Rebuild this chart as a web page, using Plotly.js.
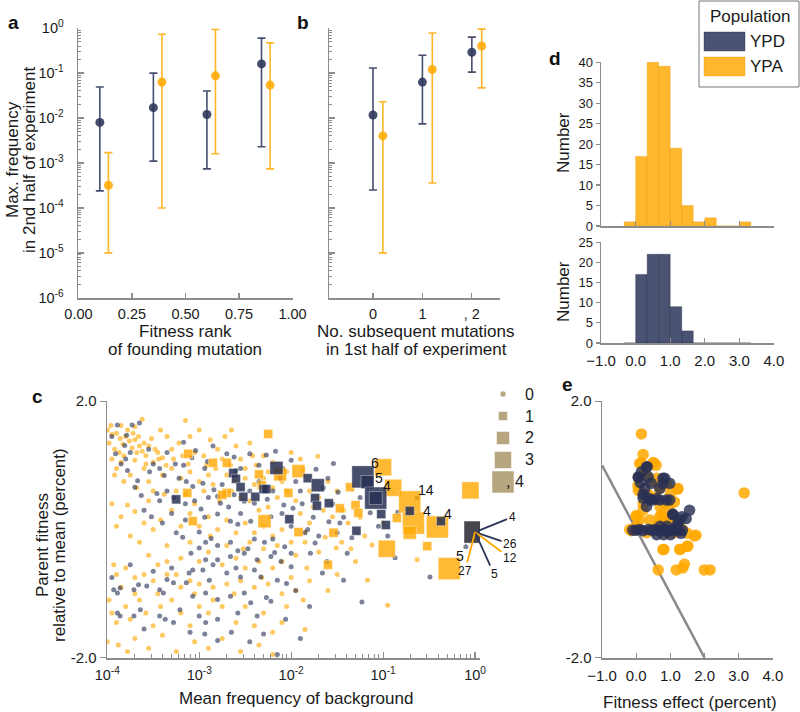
<!DOCTYPE html>
<html><head><meta charset="utf-8">
<script src="https://cdn.plot.ly/plotly-3.0.1.min.js"></script>
<style>html,body{margin:0;padding:0;background:#fff}#chart{width:800px;height:712px}</style>
</head><body><div id="chart"></div>
<script>
// ---------------- DATA ----------------
// Panel a: fitness rank of founding mutation vs max frequency (median, high, low)
const aRankYPD = [0.10, 0.35, 0.60, 0.855];
const aFreqYPD = [0.0080, 0.017, 0.012, 0.16];
const aHighYPD = [0.049, 0.10, 0.040, 0.60];
const aLowYPD  = [2.4e-4, 1.1e-3, 7.4e-4, 2.3e-3];
const aRankYPA = [0.14, 0.39, 0.64, 0.895];
const aFreqYPA = [3.2e-4, 0.063, 0.087, 0.054];
const aHighYPA = [1.7e-3, 0.73, 0.93, 0.47];
const aLowYPA  = [1.0e-5, 1.0e-4, 1.6e-3, 7.4e-4];

// Panel b: number of subsequent mutations
const bMutYPD  = [0, 1, 2];
const bFreqYPD = [0.0117, 0.063, 0.29];
const bHighYPD = [0.13, 0.25, 0.63];
const bLowYPD  = [2.5e-4, 7.4e-3, 0.105];
const bMutYPA  = [0.2, 1.2, 2.2];
const bFreqYPA = [0.004, 0.12, 0.40];
const bHighYPA = [0.023, 0.78, 0.95];
const bLowYPA  = [1.0e-5, 3.6e-4, 0.047];
const bTickVals = [0, 1, 2];
const bTickText = ['0', '1', ', 2'];

const logTickVals = [1e-6, 1e-5, 1e-4, 1e-3, 1e-2, 1e-1, 1];
const logTickText = ['10<sup>-6</sup>','10<sup>-5</sup>','10<sup>-4</sup>','10<sup>-3</sup>','10<sup>-2</sup>','10<sup>-1</sup>','10<sup>0</sup>'];

// Panel d: histograms of fitness effects (bin centres, width 1/3)
const binCenters = [-0.167, 0.167, 0.5, 0.833, 1.167, 1.5, 1.833, 2.167, 2.5, 2.833, 3.167];
const binWidth = 0.333;
const countsYPA = [1, 17, 40, 39, 19, 5, 1, 2, 0, 0, 1];
const countsYPD = [0, 17, 22, 22, 9, 3, 0, 0, 0, 0, 0];

// Panel c: background lineages [log10 mean frequency, parent fitness]
const cDotsYPD = [
[-3.89,1.63],[-3.73,1.63],[-3.65,1.66],[-3.79,1.47],[-3.81,1.31],[-3.91,1.18],[-3.85,1.02],[-3.78,0.92],[-3.80,1.10],[-3.54,0.90],[-3.50,1.02],[-3.43,0.95],[-3.38,0.84],[-3.26,1.02],[-3.17,1.00],[-3.08,1.12],[-2.94,0.95],[-2.91,1.06],[-3.17,1.36],[-3.04,1.23],[-2.70,1.18],[-2.62,1.13],[-2.45,1.18],[-2.27,1.16],[-2.17,1.22],[-2.00,1.08],[-2.09,0.95],[-2.60,0.92],[-2.55,0.95],
[-3.22,0.80],[-3.14,0.75],[-3.07,0.67],[-2.96,0.72],[-2.84,0.62],[-2.80,0.52],[-2.77,0.41],[-2.62,0.54],[-2.51,0.44],[-2.40,0.41],[-2.26,0.47],[-2.08,0.38],[-1.98,0.33],[-3.67,0.76],[-3.70,0.66],[-3.63,0.53],[-3.46,0.56],[-3.43,0.45],[-3.35,0.60],[-3.28,0.50],[-3.15,0.40],[-2.98,0.32],[-2.94,0.19],[-2.80,0.24],[-2.66,0.13],[-2.58,0.08],[-2.44,0.13],[-2.22,0.20],[-2.10,0.25],[-2.00,0.05],[-3.00,-0.04],[-2.93,-0.20],[-2.87,-0.14],[-2.80,-0.25],[-2.66,-0.20],[-2.58,-0.33],[-2.47,-0.30],[-2.29,-0.20],[-2.18,-0.36],[-2.07,-0.27],[-3.18,-0.12],[-3.09,-0.37],[-3.00,-0.29],[-2.93,-0.47],[-2.80,-0.47],[-2.66,-0.42],[-2.51,-0.37],[-2.37,-0.47],[-2.22,-0.42],[-2.11,-0.50],[-2.00,-0.58],[-2.00,-0.37],[-3.07,-0.63],[-3.11,-0.68],[-2.96,-0.63],[-2.89,-0.79],[-2.70,-0.68],[-2.55,-0.74],[-2.40,-0.63],[-2.33,-0.74],[-2.15,-0.79],[-2.05,-0.84],
[-3.93,-0.94],[-3.89,-0.99],[-3.86,-0.91],[-3.71,-0.94],[-3.66,-0.86],[-3.57,-0.88],[-3.43,-0.94],[-3.39,-0.99],[-3.35,-0.78],[-3.28,-0.83],[-3.14,-0.83],[-3.07,-1.04],[-2.93,-0.99],[-2.80,-1.09],[-2.66,-1.04],[-2.51,-0.99],[-2.44,-1.14],[-2.27,-1.06],[-2.22,-1.12],[-3.89,-1.30],[-3.86,-1.35],[-3.71,-1.35],[-3.64,-1.25],[-3.43,-1.35],[-3.37,-1.40],[-3.28,-1.45],[-3.21,-1.25],[-3.00,-1.35],[-2.93,-1.45],[-2.80,-1.40],[-2.58,-1.30],[-2.37,-1.35],[-2.06,-1.40],[-2.45,-1.75],[-2.30,-1.63],[-2.94,-1.63],[-2.80,-1.73],
[-1.54,1.03],[-1.73,0.94],[-1.60,0.80],[-1.49,0.58],[-1.76,0.19],[-1.43,0.19],[-1.47,0.10],[-1.59,0.12],[-1.74,-0.21],[-1.79,-0.37],[-1.61,-0.50],[-1.39,-0.37],[-1.43,-0.79],[-1.23,-1.13],[-0.49,-0.74],[-1.14,0.26],[-0.10,-0.27],[-0.63,0.49],[-0.84,0.27],[-0.87,-0.44],[-1.34,-0.13],[-1.66,-0.68],[-1.90,0.60],[-1.85,-0.05],[-1.95,-0.95],[-1.80,-1.20],[-2.15,-1.95],[-1.25,0.50],[-1.05,0.05],[-0.95,-0.10],
[-3.60,0.30],[-3.52,0.20],[-3.40,0.10],[-3.30,0.25],[-3.25,-0.05],[-3.15,0.15],[-3.05,0.45],[-2.90,0.50],[-2.75,0.70],[-2.68,0.35],[-2.55,0.25],[-2.45,0.60],[-2.35,0.75],[-2.20,0.60],[-2.12,0.80],[-1.95,0.75],[-1.88,0.40],[-1.82,0.00],[-1.70,-0.10],[-1.65,0.65],[-1.55,0.40],[-1.50,-0.05],[-3.55,1.25],[-3.35,1.20],[-3.95,1.45],[-3.75,1.20],[-2.85,1.30],[-2.35,1.00],[-2.20,-0.15],[-2.40,-0.15],[-2.60,-0.60],[-2.85,-0.55],[-3.30,-0.60],[-3.50,-0.65],[-3.75,-0.55],[-3.95,-0.75],[-3.60,-1.55],[-3.10,-1.60],[-2.65,-1.60],[-1.90,-1.70]
];
const cDotsYPA = [
[-4.00,1.55],[-3.95,1.48],[-3.90,1.50],[-3.86,1.42],[-3.83,1.33],[-3.80,1.45],[-3.76,1.38],[-3.73,1.27],[-3.70,1.40],[-3.68,1.20],[-3.65,1.30],[-3.62,1.22],[-3.58,1.15],[-3.55,1.30],[-3.50,1.05],[-3.45,1.20],[-3.40,1.12],[-3.30,1.25],[-3.22,1.35],[-3.15,1.70],[-3.00,1.55],[-2.88,1.40],[-2.80,1.25],[-2.75,1.10],[-2.60,1.30],[-2.55,1.10],[-2.45,1.35],[-2.30,1.15],[-2.20,1.05],[-3.95,1.10],[-3.90,0.95],[-3.85,1.05],[-3.75,0.85],[-3.60,0.95],[-3.55,0.75],[-3.40,0.85],[-3.30,0.95],[-3.20,0.80],[-3.10,0.90],[-3.00,0.75],[-2.90,0.85],[-2.85,0.70],[-2.70,0.85],[-2.60,0.75],[-2.50,0.80],[-2.40,0.70],[-2.30,0.80],[-2.20,0.65],[-2.10,0.75],[-2.05,0.90],
[-3.98,1.35],[-3.92,1.25],[-3.87,1.20],[-3.82,1.15],[-3.78,1.55],[-3.72,1.50],[-3.66,1.45],[-3.60,1.35],[-3.52,1.42],[-3.48,1.25],[-3.44,1.10],[-3.36,1.00],[-3.28,1.10],[-3.18,1.15],[-3.12,1.02],[-3.05,1.20],[-2.95,1.15],[-2.92,1.00],[-2.82,0.95],[-2.66,1.00],[-2.50,0.95],[-2.38,1.00],[-2.25,0.90],[-3.96,1.62],[-3.85,1.62],[-3.62,1.72],[-3.35,1.45],[-2.72,1.45],[-3.70,1.08],[-3.58,1.02],
[-3.85,0.20],[-3.78,0.38],[-3.70,0.28],[-3.60,0.10],[-3.55,0.45],[-3.42,0.15],[-3.30,0.30],[-3.20,0.05],[-3.10,0.25],[-3.00,0.05],[-2.90,0.20],[-2.80,0.00],[-2.70,0.15],[-2.60,-0.05],[-2.50,0.10],[-2.40,-0.05],[-2.30,0.05],[-2.20,-0.10],[-2.10,0.00],[-2.00,-0.20],[-3.65,-0.20],[-3.55,-0.40],[-3.45,-0.55],[-3.35,-0.50],[-3.20,-0.45],[-3.10,-0.20],[-3.00,-0.50],[-2.90,-0.35],[-2.75,-0.55],[-2.60,-0.45],[-2.50,-0.60],[-2.35,-0.50],[-2.20,-0.60],[-2.10,-0.50],[-2.00,-0.75],[-3.93,-0.55],[-3.90,-0.70],[-3.80,-0.60],[-3.70,-0.75],[-3.60,-0.70],[-3.50,-0.80],[-3.35,-0.70],[-3.20,-0.90],[-3.10,-0.80],[-3.00,-0.85],[-2.85,-0.90],[-2.70,-0.85],[-2.55,-0.80],[-2.40,-0.90],[-2.25,-0.85],[-2.10,-1.00],
[-2.45,0.45],[-2.35,0.30],[-2.25,0.35],[-2.15,0.50],[-2.05,0.60],[-1.95,0.45],[-1.90,0.25],[-1.80,0.10],[-1.70,0.50],[-1.65,0.30],[-1.55,0.20],[-1.50,0.60],[-1.45,-0.20],[-1.38,0.10],[-2.45,-0.20],[-2.30,-0.30],[-2.15,-0.25],[-1.95,-0.40],[-1.85,-0.20],[-1.70,-0.35],
[-3.95,-1.30],[-3.90,-1.45],[-3.80,-1.20],[-3.75,-1.40],[-3.65,-1.10],[-3.58,-1.30],[-3.50,-1.50],[-3.42,-1.20],[-3.30,-1.10],[-3.20,-1.30],[-3.10,-1.50],[-3.00,-1.20],[-2.90,-1.30],[-2.75,-1.20],[-2.60,-1.45],[-2.50,-1.20],[-2.40,-1.50],[-2.30,-1.30],[-2.20,-1.60],[-2.10,-1.45],[-4.00,-1.75],[-3.88,-1.80],[-3.78,-1.90],[-3.70,-1.70],[-3.55,-1.85],[-3.40,-1.65],[-3.25,-1.90],[-3.05,-1.75],[-2.90,-1.85],[-2.75,-1.70],[-2.55,-1.90],[-2.35,-1.80],[-2.20,-1.95],
[-1.71,1.14],[-1.87,0.93],[-1.63,-0.12],[-1.51,-0.29],[-1.83,-0.60],[-1.87,-1.10],[-1.85,-1.56],[-0.95,-1.18],[-1.17,-0.79],[-1.12,-0.24],[-1.25,0.19],[-1.43,0.30],[-1.76,0.35],[-1.85,-0.04],[-1.00,0.10],[-0.63,-0.47],[-1.60,0.75],[-1.30,-0.50],
[-3.92,0.85],[-3.82,0.75],[-3.68,0.65],[-3.50,0.60],[-3.38,0.55],[-3.25,0.60],[-3.15,0.55],[-3.05,0.40],[-2.95,0.60],[-2.78,0.45],[-2.65,0.60],[-2.55,0.50],[-2.88,-0.10],[-2.70,-0.25],[-2.52,-0.30],[-2.32,-0.75],[-2.62,-1.00],[-2.85,-1.10],[-3.05,-1.00],[-3.45,-1.00],[-3.70,-1.00],[-3.85,-0.90],[-3.98,-1.10],[-3.95,0.40],[-3.90,0.05],[-3.75,-0.10],[-3.50,0.00],[-3.35,-0.25],[-3.25,-0.70],[-2.05,-1.20],[-1.95,-0.95],[-1.80,-0.80],[-1.60,-0.95],[-1.50,-0.70],[-1.35,-0.30],[-1.20,-0.10],[-1.10,0.40],[-2.00,1.20],[-1.90,1.10],[-3.70,1.60],[-3.42,1.55],[-3.10,1.45],[-2.65,1.55],[-2.42,1.15],[-2.15,0.95],[-1.80,0.60]
];
// Lineages with adaptive mutations [log10 mean frequency, parent fitness, no. of mutations]
const cSquaresYPA = [
[-2.25,1.49,1],[-3.12,1.18,1],[-2.85,1.04,1],[-2.70,1.04,1],[-2.35,0.86,1],[-2.12,0.86,2],[-2.32,0.69,1],[-1.92,0.91,2],[-2.03,0.57,1],[-2.70,0.57,1],[-2.75,0.54,1],[-3.13,0.57,1],[-3.07,0.13,1],[-2.29,0.13,2],[-1.92,-0.04,1],[-1.47,0.33,1],[-1.54,-0.05,1],[-1.60,-0.55,1],[-1.36,0.66,1],[-1.30,0.38,1],[-1.27,0.26,1],[-1.00,0.97,3],[-0.89,0.65,3],[-0.85,0.18,1],[-0.96,-0.30,3],[-0.71,0.43,4],[-0.67,0.10,4],[-0.71,-0.05,2],[-0.52,-0.26,1],[-0.41,0.04,4],[-0.05,0.61,3],[-0.28,-0.61,4],[0.0,-0.04,4]
];
const cSquaresYPD = [
[-3.25,0.47,1],[-2.63,0.88,1],[-2.60,0.79,1],[-2.55,0.66,1],[-2.52,0.51,1],[-2.39,0.51,1],[-2.30,0.63,1],[-2.27,0.63,1],[-2.16,0.96,2],[-2.02,0.16,1],[-1.82,0.80,1],[-1.71,0.69,2],[-1.74,0.49,1],[-1.72,0.37,1],[-1.59,0.41,1],[-1.29,-0.02,1],[-1.22,0.82,4],[-1.17,0.74,2],[-1.08,0.49,4],[-1.08,0.49,2],[-1.02,0.24,1],[-0.97,0.07,1],[-0.71,0.29,1],[-0.37,0.13,1],[0.0,-0.04,4]
];
const sizeLegendCounts = [0, 1, 2, 3, 4];
const sizeLegendLabels = ['0', '1', '2', '3', ', 4'];
const cTickVals = [1e-4, 1e-3, 1e-2, 1e-1, 1];
const cTickText = ['10<sup>-4</sup>','10<sup>-3</sup>','10<sup>-2</sup>','10<sup>-1</sup>','10<sup>0</sup>'];

// Panel e: fitness effect vs parent fitness
const eEffectYPA = [0.15,0.20,0.15,0.10,0.49,0.52,0.06,0.05,0.69,1.21,1.22,1.12,0.01,0.10,0.40,0.69,0.75,0.80,0.72,0.85,0.65,0.90,-0.14,-0.19,0.00,0.00,1.70,1.75,1.50,0.81,0.78,1.29,1.27,1.49,1.51,0.64,1.17,1.36,1.41,1.99,2.16,3.16,0.30,0.45,0.60,0.90,1.00,0.55,0.35,0.20,1.20,1.35,1.10,0.50,0.30,0.90,0.20,0.58,0.25,0.95,1.05,0.70,0.85];
const eParentYPA = [1.49,1.17,1.04,1.03,1.04,1.04,0.61,0.68,0.64,0.63,0.64,0.43,0.20,0.15,0.15,0.20,0.25,0.18,0.12,0.10,0.08,0.15,-0.02,0.00,0.05,0.22,-0.10,-0.09,-0.06,-0.31,-0.31,-0.31,-0.31,-0.26,-0.26,-0.63,-0.63,-0.60,-0.54,-0.63,-0.63,0.57,0.85,0.75,0.80,0.70,0.55,0.50,0.55,0.40,0.05,0.00,-0.05,-0.02,-0.05,-0.05,0.30,1.00,0.95,0.35,0.20,0.35,0.40];
const eEffectYPD = [0.32,0.30,0.15,0.06,0.06,0.12,0.35,0.25,0.44,0.69,0.83,0.78,0.98,0.78,0.20,0.35,0.40,0.69,0.88,0.98,0.30,1.07,1.07,1.56,1.46,1.27,1.34,1.17,1.31,1.22,0.50,0.60,0.20,-0.10,0.00,0.10,0.20,0.35,0.45,0.55,0.65,0.75,0.85,0.95,1.05,1.15,1.25,1.35,0.60,0.80,1.00,0.70,0.90];
const eParentYPD = [0.98,0.97,0.90,0.82,0.81,0.73,0.82,0.64,0.72,0.64,0.80,0.80,0.72,0.72,0.49,0.49,0.46,0.46,0.46,0.46,0.36,0.23,0.24,0.30,0.17,0.15,0.20,0.04,-0.06,0.10,0.46,0.48,0.55,-0.01,-0.01,0.00,-0.02,0.00,-0.01,0.00,-0.02,-0.01,0.00,-0.02,-0.01,0.00,-0.02,-0.01,-0.08,-0.08,-0.08,0.05,0.05];
const eLineX = [-1, 2];
const eLineY = [1, -2];

// ---------------- STYLE ----------------
const NAVY = '#2c355a';
const NAVY_A = 'rgba(44,53,90,0.88)';
const ORANGE_A = 'rgba(255,168,0,0.85)';
const TAN = 'rgba(170,150,105,0.85)';
const FONT = 'Liberation Sans, Arial, Helvetica, sans-serif';
const AXC = '#8c8c8c';
const SQUARE_SIZE = {1: 9, 2: 13, 3: 17, 4: 22};
const PX = v => v / 800;
const PY = v => 1 - v / 712;

const base = {showline:true, linecolor:AXC, linewidth:1.5, showgrid:false, zeroline:false,
  tickcolor:AXC, tickwidth:1.2, tickfont:{size:14.5, color:'#1a1a1a', family:FONT}, fixedrange:true};

function errTrace(x, y, hi, lo, color, xa, ya) {
  return {type:'scatter', mode:'markers', x:x, y:y, xaxis:xa, yaxis:ya,
    marker:{size:9, color:color, opacity:1},
    error_y:{type:'data', symmetric:false,
      array: hi.map((h,i)=>h-y[i]), arrayminus: y.map((v,i)=>v-lo[i]),
      color:color, thickness:1.6, width:4}};
}

const traces = [
  errTrace(aRankYPD, aFreqYPD, aHighYPD, aLowYPD, NAVY_A, 'x', 'y'),
  errTrace(aRankYPA, aFreqYPA, aHighYPA, aLowYPA, ORANGE_A, 'x', 'y'),
  errTrace(bMutYPD, bFreqYPD, bHighYPD, bLowYPD, NAVY_A, 'x2', 'y2'),
  errTrace(bMutYPA, bFreqYPA, bHighYPA, bLowYPA, ORANGE_A, 'x2', 'y2'),
  {type:'bar', x:binCenters, y:countsYPA, width:binWidth, xaxis:'x3', yaxis:'y3',
    marker:{color:'rgba(255,168,0,0.82)', line:{color:'rgba(225,145,0,0.6)', width:0.6}}},
  {type:'bar', x:binCenters, y:countsYPD, width:binWidth, xaxis:'x4', yaxis:'y4',
    marker:{color:'rgba(44,53,90,0.85)', line:{color:'rgba(30,36,64,0.6)', width:0.6}}},
  {type:'scatter', mode:'markers', x:cDotsYPA.map(d=>10**d[0]), y:cDotsYPA.map(d=>d[1]), xaxis:'x5', yaxis:'y5',
    marker:{size:5, color:'rgba(255,168,0,0.62)', opacity:1}},
  {type:'scatter', mode:'markers', x:cDotsYPD.map(d=>10**d[0]), y:cDotsYPD.map(d=>d[1]), xaxis:'x5', yaxis:'y5',
    marker:{size:5, color:'rgba(44,53,90,0.62)', opacity:1}},
  {type:'scatter', mode:'markers', x:cSquaresYPA.map(d=>10**d[0]), y:cSquaresYPA.map(d=>d[1]), xaxis:'x5', yaxis:'y5',
    marker:{symbol:'square', size:cSquaresYPA.map(d=>SQUARE_SIZE[d[2]]), color:'rgba(255,168,0,0.8)', opacity:1,
      line:{color:'rgba(255,255,255,0.4)', width:1}}},
  {type:'scatter', mode:'markers', x:cSquaresYPD.map(d=>10**d[0]), y:cSquaresYPD.map(d=>d[1]), xaxis:'x5', yaxis:'y5',
    marker:{symbol:'square', size:cSquaresYPD.map(d=>SQUARE_SIZE[d[2]]), color:'rgba(40,48,84,0.85)', opacity:1,
      line:{color:'rgba(255,255,255,0.35)', width:1}}},
  {type:'scatter', mode:'lines', x:eLineX, y:eLineY, xaxis:'x6', yaxis:'y6', line:{color:'#8a8a8a', width:2.5}},
  {type:'scatter', mode:'markers', x:eEffectYPA, y:eParentYPA, xaxis:'x6', yaxis:'y6',
    marker:{size:11.5, color:'rgba(255,168,0,0.85)', opacity:1}},
  {type:'scatter', mode:'markers', x:eEffectYPD, y:eParentYPD, xaxis:'x6', yaxis:'y6',
    marker:{size:11.5, color:'rgba(40,48,84,0.82)', opacity:1}},
  {type:'scatter', mode:'markers', x:sizeLegendCounts.map(()=>23), y:sizeLegendCounts, xaxis:'x7', yaxis:'y7',
    marker:{symbol:sizeLegendCounts.map(c=>c===0?'circle':'square'), opacity:1,
      size:sizeLegendCounts.map(c=>c===0?6:SQUARE_SIZE[c]), color:TAN, line:{color:'rgba(255,255,255,0.5)', width:1}}}
];

const yDomAB = [PY(298), PY(28)];
const dTickFont = {size:15, color:'#1a1a1a', family:FONT};
const dYTickFont = {size:13, color:'#1a1a1a', family:FONT};
const layout = {
  width:800, height:712, margin:{l:0,r:0,t:0,b:0}, showlegend:false,
  paper_bgcolor:'#fff', plot_bgcolor:'rgba(0,0,0,0)', font:{family:FONT, color:'#1a1a1a'},
  bargap:0,
  xaxis:{...base, domain:[PX(78),PX(293)], range:[-0.002,1.002], tickvals:[0,0.25,0.5,0.75,1], tickformat:'.2f',
    ticks:'inside', ticklen:5, anchor:'y', ticklabelstandoff:2},
  yaxis:{...base, type:'log', domain:yDomAB, range:[-6.003,0.003], tickvals:logTickVals, ticktext:logTickText,
    ticks:'inside', ticklen:6, anchor:'x', ticklabelstandoff:10,
    minor:{ticks:'inside', ticklen:3, dtick:'D1', tickcolor:AXC, tickwidth:1}},
  xaxis2:{...base, domain:[PX(329),PX(500)], range:[-0.89,2.57], tickvals:bTickVals, ticktext:bTickText,
    ticks:'inside', ticklen:5, anchor:'y2', ticklabelstandoff:2},
  yaxis2:{...base, type:'log', domain:yDomAB, range:[-6.003,0.003], tickvals:logTickVals, showticklabels:false,
    ticks:'inside', ticklen:6, anchor:'x2',
    minor:{ticks:'inside', ticklen:3, dtick:'D1', tickcolor:AXC, tickwidth:1}},
  xaxis3:{...base, domain:[PX(601),PX(774)], range:[-1.003,4.003], tickvals:[-1,0,1,2,3,4], showticklabels:false,
    ticks:'inside', ticklen:5, anchor:'y3'},
  yaxis3:{...base, domain:[PY(226),PY(62)], range:[0,40.05], tickvals:[0,5,10,15,20,25,30,35,40],
    ticks:'outside', ticklen:4, anchor:'x3', tickfont:dYTickFont},
  xaxis4:{...base, domain:[PX(601),PX(774)], range:[-1.003,4.003], tickvals:[-1,0,1,2,3,4], tickformat:'.1f',
    ticks:'inside', ticklen:5, anchor:'y4', ticklabelstandoff:3, tickfont:dTickFont},
  yaxis4:{...base, domain:[PY(343),PY(242)], range:[0,25.05], tickvals:[0,5,10,15,20,25],
    ticks:'outside', ticklen:4, anchor:'x4', tickfont:dYTickFont},
  xaxis5:{...base, type:'log', domain:[PX(107),PX(480)], range:[-4.003,0.054], tickvals:cTickVals, ticktext:cTickText,
    ticks:'inside', ticklen:6, anchor:'y5', ticklabelstandoff:3,
    minor:{ticks:'inside', ticklen:4, dtick:'D1', tickcolor:AXC, tickwidth:1}},
  yaxis5:{...base, domain:[PY(658),PY(401)], range:[-2.003,2.003], tickvals:[-2,2], ticktext:['-2.0','2.0'],
    ticks:'outside', ticklen:6, anchor:'x5', tickfont:dTickFont},
  xaxis6:{...base, domain:[PX(602),PX(773)], range:[-1.003,4.003], tickvals:[-1,0,1,2,3,4], tickformat:'.1f',
    ticks:'inside', ticklen:5, anchor:'y6', ticklabelstandoff:3, tickfont:dTickFont},
  yaxis6:{...base, domain:[PY(658),PY(401)], range:[-2.003,2.003], tickvals:[-2,2], ticktext:['-2.0','2.0'],
    ticks:'outside', ticklen:6, anchor:'x6', tickfont:dTickFont},
  xaxis7:{domain:[PX(480),PX(560)], range:[0,80], visible:false, fixedrange:true, anchor:'y7'},
  yaxis7:{domain:[PY(500),PY(385)], range:[4.82,-0.41], visible:false, fixedrange:true, anchor:'x7'},
  shapes:[
    {type:'rect', xref:'paper', yref:'paper', x0:PX(699), x1:PX(799), y0:PY(87), y1:PY(1), line:{color:'#777', width:1}},
    {type:'rect', xref:'paper', yref:'paper', x0:PX(704), x1:PX(745), y0:PY(51), y1:PY(32), fillcolor:'rgba(44,53,90,0.85)', line:{color:'rgba(30,36,64,0.6)', width:0.6}},
    {type:'rect', xref:'paper', yref:'paper', x0:PX(704), x1:PX(745), y0:PY(76), y1:PY(57), fillcolor:'rgba(255,168,0,0.82)', line:{color:'rgba(225,145,0,0.6)', width:0.6}}
  ],
  annotations:[]
};

const A = layout.annotations;
function note(text, x, y, opts) {
  A.push(Object.assign({text:text, x:PX(x), y:PY(y), xref:'paper', yref:'paper', showarrow:false,
    xanchor:'center', yanchor:'middle', font:{size:17, family:FONT, color:'#1a1a1a'}}, opts || {}));
}
// panel letters
[['a',13,22],['b',303,22],['d',555,58],['c',37,397],['e',567,384]].forEach(p =>
  note('<b>'+p[0]+'</b>', p[1], p[2], {font:{size:19, family:FONT, color:'#111'}}));
// axis titles
note('Max. frequency', 12, 160, {textangle:-90});
note('in 2nd half of experiment', 29, 160, {textangle:-90});
note('Fitness rank', 185, 332);
note('of founding mutation', 185, 349);
note('No. subsequent mutations', 416, 332);
note('in 1st half of experiment', 416, 349);
note('Number', 563, 143, {textangle:-90});
note('Number', 563, 292, {textangle:-90});
note('Parent fitness', 42, 545, {textangle:-90});
note('relative to mean (percent)', 59, 545, {textangle:-90});
note('Mean frequency of background', 296, 698);
note('Fitness effect (percent)', 690, 702);
// population legend
note('Population', 750, 17);
note('YPD', 748, 42, {xanchor:'left'});
note('YPA', 748, 67, {xanchor:'left'});
// size legend labels
sizeLegendCounts.forEach((c, i) => A.push({text:sizeLegendLabels[i], x:(c===4?35:49), y:c, xref:'x7', yref:'y7',
  showarrow:false, xanchor:'center', yanchor:'middle', font:{size:16, family:FONT, color:'#1a1a1a'}}));
// counts next to squares
[['6',-1.09,1.04],['5',-1.04,0.81],['4',-0.96,0.68],['14',-0.53,0.61],['4',-0.52,0.29],['4',-0.29,0.24],['5',-0.163,-0.41]]
  .forEach(t => A.push({text:t[0], x:t[1], y:t[2], xref:'x5', yref:'y5', showarrow:false,
    font:{size:14, family:FONT, color:'#111'}}));
[['4',37,-15,NAVY],['26',35,12,NAVY],['12',35,26,'#ffa800'],['5',19,42,NAVY],['27',-10,39,'#ffa800']]
  .forEach(t => A.push({text:t[0], x:0, y:-0.04, xref:'x5', yref:'y5', showarrow:true, arrowhead:0,
    arrowwidth:1.8, arrowcolor:t[3], ax:t[1], ay:t[2], standoff:0, startstandoff:0,
    font:{size:12, family:FONT, color:'#111'}}));

Plotly.newPlot('chart', traces, layout, {displayModeBar:false, staticPlot:true});
</script></body></html>
